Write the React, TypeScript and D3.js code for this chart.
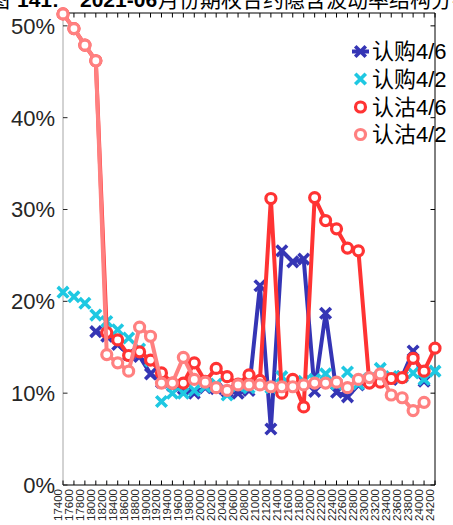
import React from "react";
import * as d3 from "d3";

const strikes = [17400, 17600, 17800, 18000, 18200, 18400, 18600, 18800, 19000, 19200, 19400, 19600, 19800, 20000, 20200, 20400, 20600, 20800, 21000, 21200, 21400, 21600, 21800, 22000, 22200, 22400, 22600, 22800, 23000, 23200, 23400, 23600, 23800, 24000, 24200];

// 认购4/6
const callA: (number | null)[] = [null, null, null, 16.7, 16.2, 15.3, 14.2, 14.0, 12.1, 11.2, 10.8, 10.5, 10.0, 10.6, 10.5, 10.2, 10.0, 10.3, 21.7, 6.1, 25.5, 24.3, 24.6, 10.2, 18.7, 10.1, 9.6, 10.9, 11.3, 11.8, 11.5, 11.8, 14.6, 11.3, null];
// 认购4/2
const callB: (number | null)[] = [21.0, 20.5, 19.8, 18.5, 17.8, 16.9, 16.0, 14.8, 13.5, 9.1, 10.0, 10.0, 10.3, 10.7, 11.0, 9.8, 10.8, 10.6, 11.0, 10.6, 11.8, 11.2, 11.3, 11.5, 12.1, 11.0, 12.3, 11.0, 11.6, 12.7, 11.8, 11.8, 12.2, 11.5, 12.4];
// 认沽4/6
const putA: (number | null)[] = [51.3, 49.7, 47.9, 46.2, 16.6, 15.8, 14.1, 14.5, 13.6, 12.2, 11.1, 11.1, 13.3, 11.3, 12.7, 11.8, 11.0, 12.0, 11.4, 31.2, 10.0, 11.5, 8.5, 31.3, 28.8, 27.9, 25.8, 25.5, 11.1, 11.2, 11.6, 11.7, 13.8, 12.4, 14.9];
// 认沽4/2
const putB: (number | null)[] = [51.3, 49.7, 47.9, 46.2, 14.2, 13.3, 12.4, 17.2, 16.2, 11.1, 11.1, 13.9, 11.5, 11.2, 10.6, 10.3, 10.9, 10.9, 10.9, 10.7, 10.7, 10.7, 10.9, 11.1, 11.1, 11.2, 10.6, 11.5, 11.7, 12.1, 9.8, 9.5, 8.1, 9.0, null];

const yTicks = [0, 10, 20, 30, 40, 50];
const seriesNames = ["认购4/6", "认购4/2", "认沽4/6", "认沽4/2"];
const titleParts = ["图", "141:", "2021-06", "月份期权合约隐含波动率结构分布"];

const BLUE = "#3535b5";
const CYAN = "#1ec8e2";
const RED = "#ff3333";
const PINK = "#ff8080";
const FONT = "'Liberation Sans', Arial, 'Noto Sans CJK SC', sans-serif";

const X0 = 63, X1 = 435, Y0 = 13, Y1 = 485;

export default function App() {
  const x = d3.scaleLinear().domain([17400, 24200]).range([X0, X1]);
  const y = d3.scaleLinear().domain([0, 51.4]).range([Y1, Y0]);

  const mk = (vals: (number | null)[]) =>
    strikes.map((s, i) => ({ s, v: vals[i] })).filter((d) => d.v != null) as { s: number; v: number }[];

  const line = d3
    .line<{ s: number; v: number }>()
    .x((d) => x(d.s))
    .y((d) => y(d.v));

  const xMark = (cx: number, cy: number, color: string, key: string, s = 4, w = 3.6) => (
    <path
      key={key}
      d={`M${cx - s},${cy - s}L${cx + s},${cy + s}M${cx - s},${cy + s}L${cx + s},${cy - s}`}
      stroke={color}
      strokeWidth={w}
      strokeLinecap="square"
      fill="none"
    />
  );
  const oMark = (cx: number, cy: number, color: string, key: string) => (
    <circle key={key} cx={cx} cy={cy} r={5} fill="#fff" stroke={color} strokeWidth={3.2} />
  );

  const dA = mk(callA), dB = mk(callB), dC = mk(putA), dD = mk(putB);

  const legendY = [51.5, 79, 107, 134.5];

  return (
    <svg width={453} height={525} style={{ position: "absolute", left: 0, top: 0, background: "#fff" }} fontFamily={FONT}>
      {/* title (cut at top, as in the reference) */}
      <text y={7} fontSize={21} fill="#000">
        <tspan x={-11}>{titleParts[0]}</tspan>
        <tspan x={17} fontWeight="bold">{titleParts[1]}</tspan>
        <tspan x={80} fontWeight="bold">{titleParts[2]}</tspan>
        <tspan x={158}>{titleParts[3]}</tspan>
      </text>

      {/* axes frame */}
      <line x1={X0} y1={Y0} x2={X0} y2={Y1} stroke="#a6a6a6" strokeWidth={1} />
      <line x1={X0} y1={Y0} x2={X1} y2={Y0} stroke="#000" strokeWidth={1} />
      <line x1={X1} y1={Y0} x2={X1} y2={Y1} stroke="#000" strokeWidth={1} />
      <line x1={X0} y1={Y1} x2={X1} y2={Y1} stroke="#000" strokeWidth={1} />

      {strikes.map((s) => (
        <g key={"xt" + s}>
          <line x1={x(s)} x2={x(s)} y1={Y1} y2={Y1 - 4.5} stroke="#000" />
          <line x1={x(s)} x2={x(s)} y1={Y0} y2={Y0 + 4.5} stroke="#000" />
          <text
            transform={`translate(${x(s) - 1},${Y1 + 4}) rotate(-90)`}
            textAnchor="end"
            fontSize={11.5}
            fill="#262626"
          >
            {s}
          </text>
        </g>
      ))}
      {yTicks.map((t) => (
        <g key={"yt" + t}>
          <line x1={X0} x2={X0 + 4.5} y1={y(t)} y2={y(t)} stroke="#262626" />
          <line x1={X1} x2={X1 - 4.5} y1={y(t)} y2={y(t)} stroke="#000" />
          <text x={55} y={y(t)} dy="0.36em" textAnchor="end" fontSize={22} fill="#262626">
            {t + "%"}
          </text>
        </g>
      ))}

      {/* series */}
      <path d={line(dA) || ""} stroke={BLUE} strokeWidth={4} fill="none" strokeLinejoin="round" />
      {dA.map((d, i) => xMark(x(d.s), y(d.v), BLUE, "a" + i))}
      {dB.map((d, i) => xMark(x(d.s), y(d.v), CYAN, "b" + i))}
      <path d={line(dC) || ""} stroke={RED} strokeWidth={4} fill="none" strokeLinejoin="round" />
      {dC.map((d, i) => oMark(x(d.s), y(d.v), RED, "c" + i))}
      <path d={line(dD) || ""} stroke={PINK} strokeWidth={4} fill="none" strokeLinejoin="round" />
      {dD.map((d, i) => oMark(x(d.s), y(d.v), PINK, "d" + i))}

      {/* legend */}
      <g>
        <line x1={352} x2={369} y1={legendY[0]} y2={legendY[0]} stroke={BLUE} strokeWidth={4} />
        {xMark(360.5, legendY[0], BLUE, "l0")}
        {xMark(360.5, legendY[1], CYAN, "l1")}
        {oMark(360.5, legendY[2], RED, "l2")}
        {oMark(360.5, legendY[3], PINK, "l3")}
        {seriesNames.map((n, i) => (
          <text key={n} x={372} y={legendY[i]} dy="0.36em" fontSize={22} fill="#000">
            {n}
          </text>
        ))}
      </g>
    </svg>
  );
}
